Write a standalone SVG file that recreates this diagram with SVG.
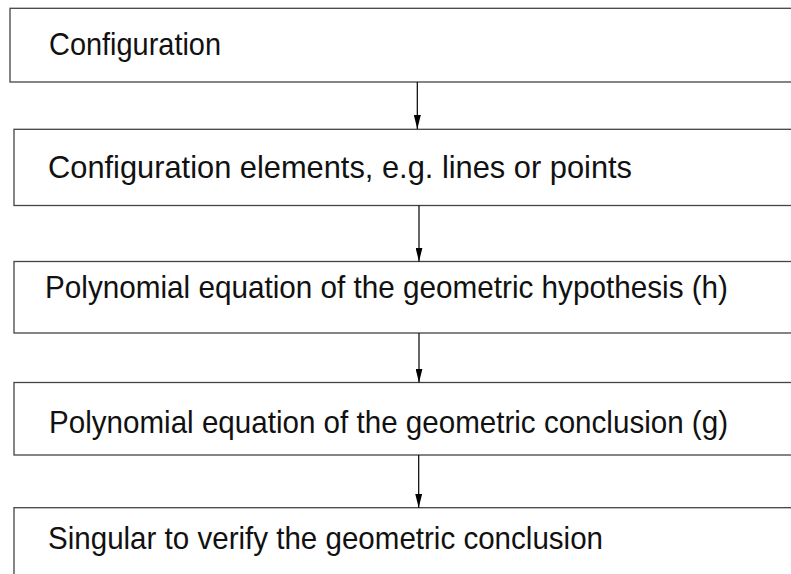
<svg xmlns="http://www.w3.org/2000/svg" width="791" height="574" viewBox="0 0 791 574">
<style>
.box{fill:#fff;stroke:#444;stroke-width:1.3}
.lbl{font-family:"Liberation Sans",Arial,sans-serif;font-size:32px;fill:#111}
.conn{stroke:#000;stroke-width:1.2;fill:none;marker-end:url(#ah)}
</style>
<defs>
<marker id="ah" markerWidth="14" markerHeight="7" refX="14" refY="3.5" orient="auto" markerUnits="userSpaceOnUse" viewBox="0 0 14 7">
<path d="M0,0 L14,3.5 L0,7 Z" fill="#000"/>
</marker>
</defs>
<rect width="791" height="574" fill="#fff"/>
<g id="node1"><rect class="box" x="10" y="8.3" width="800" height="73.7"/><text class="lbl" x="49" y="55" textLength="172" lengthAdjust="spacingAndGlyphs">Configuration</text></g>
<g id="node2"><rect class="box" x="14" y="129.3" width="800" height="76.2"/><text class="lbl" x="48" y="178" textLength="584" lengthAdjust="spacingAndGlyphs">Configuration elements, e.g. lines or points</text></g>
<g id="node3"><rect class="box" x="14" y="261.5" width="800" height="71.5"/><text class="lbl" x="45" y="298" textLength="683" lengthAdjust="spacingAndGlyphs">Polynomial equation of the geometric hypothesis (h)</text></g>
<g id="node4"><rect class="box" x="14" y="382.5" width="800" height="72.5"/><text class="lbl" x="49" y="433" textLength="679" lengthAdjust="spacingAndGlyphs">Polynomial equation of the geometric conclusion (g)</text></g>
<g id="node5"><rect class="box" x="14" y="507.7" width="800" height="100"/><text class="lbl" x="48" y="549.3" textLength="555" lengthAdjust="spacingAndGlyphs">Singular to verify the geometric conclusion</text></g>
<g id="connectors">
<path class="conn" d="M417.3,82 V129"/>
<path class="conn" d="M419,205.5 V261.5"/>
<path class="conn" d="M419,333 V382.5"/>
<path class="conn" d="M418.7,455 V507.7"/>
</g>
</svg>
